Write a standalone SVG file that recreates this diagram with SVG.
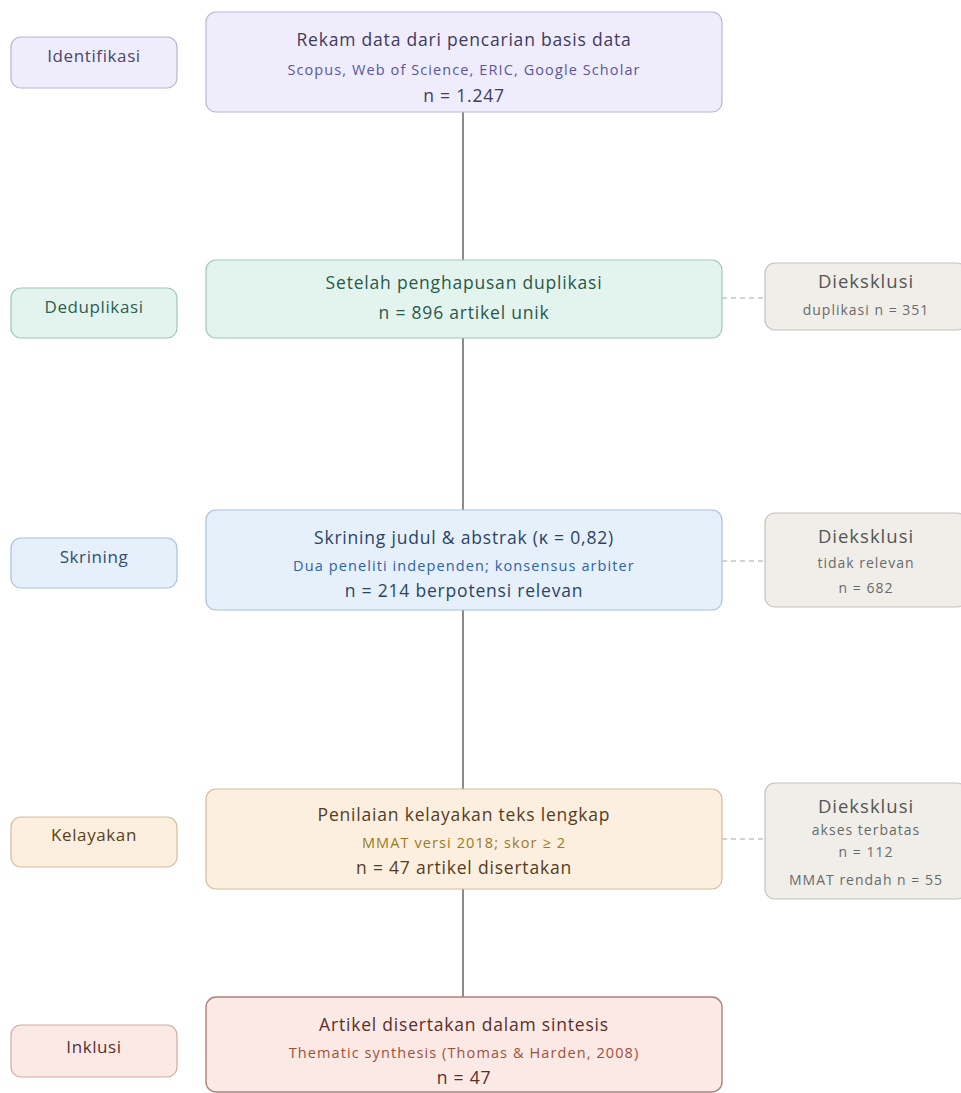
<svg xmlns="http://www.w3.org/2000/svg" width="961" height="1093" viewBox="0 0 961 1093">
<style>
text{font-family:"Open Sans","Noto Sans","DejaVu Sans",sans-serif;text-anchor:middle}
.t{font-size:17.5px;letter-spacing:0.8px}
.s{font-size:14.5px;letter-spacing:1.1px}
.l{font-size:17px;letter-spacing:0.6px}
.ex rect{fill:#f0eee9;stroke:#c6c2ba;stroke-width:1.2}
.ex .t{fill:#555;font-size:18.5px;letter-spacing:1px}
.ex .s{fill:#6a6a6a;font-size:14px;letter-spacing:1px}
.conn line{stroke:#8c8c8c;stroke-width:2}
.conn .d{stroke:#a8a8a8;stroke-width:1.2;stroke-dasharray:5 4}
</style>
<rect width="961" height="1093" fill="#ffffff"/>
<g class="conn" id="connectors">
<line x1="463" y1="112" x2="463" y2="260"/>
<line x1="463" y1="338" x2="463" y2="510"/>
<line x1="463" y1="610" x2="463" y2="789"/>
<line x1="463" y1="889" x2="463" y2="997"/>
<line class="d" x1="722" y1="298" x2="765" y2="298"/>
<line class="d" x1="722" y1="561" x2="765" y2="561"/>
<line class="d" x1="722" y1="839" x2="765" y2="839"/>
</g>
<g id="label-identifikasi">
<rect x="11" y="37" width="166" height="51" rx="10" fill="#efedfb" stroke="#b9b5d2" stroke-width="1.2"/>
<text class="l" x="94" y="62" fill="#4a4670">Identifikasi</text>
</g>
<g id="node-identifikasi">
<rect x="206" y="12" width="516" height="100" rx="10" fill="#efedfb" stroke="#b9b5d2" stroke-width="1.2"/>
<text class="t" x="464" y="46" fill="#3e3a60">Rekam data dari pencarian basis data</text>
<text class="s" x="464" y="75" fill="#5a55a0">Scopus, Web of Science, ERIC, Google Scholar</text>
<text class="t" x="464" y="102" fill="#3e3a60">n = 1.247</text>
</g>
<g id="label-deduplikasi">
<rect x="11" y="288" width="166" height="50" rx="10" fill="#e3f4ef" stroke="#9fc6b8" stroke-width="1.2"/>
<text class="l" x="94" y="313" fill="#2f5f50">Deduplikasi</text>
</g>
<g id="node-deduplikasi">
<rect x="206" y="260" width="516" height="78" rx="10" fill="#e3f4ef" stroke="#9fc6b8" stroke-width="1.2"/>
<text class="t" x="464" y="289" fill="#2a5848">Setelah penghapusan duplikasi</text>
<text class="t" x="464" y="319" fill="#2a5848">n = 896 artikel unik</text>
</g>
<g id="excl-dedup" class="ex">
<rect x="765" y="263" width="202" height="67" rx="10"/>
<text class="t" x="866" y="288">Dieksklusi</text>
<text class="s" x="866" y="315">duplikasi n = 351</text>
</g>
<g id="label-skrining">
<rect x="11" y="538" width="166" height="50" rx="10" fill="#e6f0fb" stroke="#a8c0da" stroke-width="1.2"/>
<text class="l" x="94" y="563" fill="#2e4f70">Skrining</text>
</g>
<g id="node-skrining">
<rect x="206" y="510" width="516" height="100" rx="10" fill="#e6f0fb" stroke="#a8c0da" stroke-width="1.2"/>
<text class="t" x="464" y="544" fill="#2a4563">Skrining judul &amp; abstrak (κ = 0,82)</text>
<text class="s" x="464" y="571" fill="#2f62a8">Dua peneliti independen; konsensus arbiter</text>
<text class="t" x="464" y="597" fill="#2a4563">n = 214 berpotensi relevan</text>
</g>
<g id="excl-skrining" class="ex">
<rect x="765" y="513" width="202" height="94" rx="10"/>
<text class="t" x="866" y="543">Dieksklusi</text>
<text class="s" x="866" y="568">tidak relevan</text>
<text class="s" x="866" y="593">n = 682</text>
</g>
<g id="label-kelayakan">
<rect x="11" y="817" width="166" height="50" rx="10" fill="#fcefdf" stroke="#d4bc9c" stroke-width="1.2"/>
<text class="l" x="94" y="841" fill="#5a4020">Kelayakan</text>
</g>
<g id="node-kelayakan">
<rect x="206" y="789" width="516" height="100" rx="10" fill="#fcefdf" stroke="#d4bc9c" stroke-width="1.2"/>
<text class="t" x="464" y="821" fill="#553c1e">Penilaian kelayakan teks lengkap</text>
<text class="s" x="464" y="848" fill="#9a7a1e">MMAT versi 2018; skor ≥ 2</text>
<text class="t" x="464" y="874" fill="#553c1e">n = 47 artikel disertakan</text>
</g>
<g id="excl-kelayakan" class="ex">
<rect x="765" y="783" width="202" height="116" rx="10"/>
<text class="t" x="866" y="813">Dieksklusi</text>
<text class="s" x="866" y="835">akses terbatas</text>
<text class="s" x="866" y="857">n = 112</text>
<text class="s" x="866" y="885">MMAT rendah n = 55</text>
</g>
<g id="label-inklusi">
<rect x="11" y="1025" width="166" height="52" rx="10" fill="#fbe9e5" stroke="#d2aaa2" stroke-width="1.2"/>
<text class="l" x="94" y="1053" fill="#5a3030">Inklusi</text>
</g>
<g id="node-inklusi">
<rect x="206" y="997" width="516" height="95" rx="10" fill="#fbe9e5" stroke="#b07f78" stroke-width="1.4"/>
<text class="t" x="464" y="1031" fill="#5a2e2a">Artikel disertakan dalam sintesis</text>
<text class="s" x="464" y="1058" fill="#a0503a">Thematic synthesis (Thomas &amp; Harden, 2008)</text>
<text class="t" x="464" y="1084" fill="#5a2e2a">n = 47</text>
</g>
</svg>
